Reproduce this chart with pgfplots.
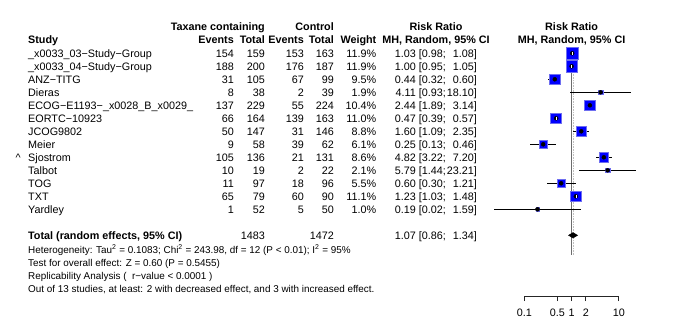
\documentclass[border=0pt]{standalone}
\usepackage{fontspec}
\setmainfont{Liberation Sans}
\usepackage{pgfplots}
\pgfplotsset{compat=1.18}
\usepackage{pgfplotstable}

% row, estimate, CI, weight (%), in = 1 when the CI fits inside the square
\pgfplotstableread{
row est lo hi w in
1 1.03 0.98 1.08 11.9 1
2 1.00 0.95 1.05 11.9 1
3 0.44 0.32 0.60 9.5 0
4 4.11 0.93 18.10 1.9 0
5 2.44 1.89 3.14 10.4 0
6 0.47 0.39 0.57 11.0 1
7 1.60 1.09 2.35 8.8 0
8 0.25 0.13 0.46 6.1 0
9 4.82 3.22 7.20 8.6 0
10 5.79 1.44 23.21 2.1 0
11 0.60 0.30 1.21 5.5 0
12 1.23 1.03 1.48 11.1 1
13 0.19 0.023 1.59 1.0 0
}\studies

\newcommand\mainsz{\fontsize{10.8bp}{13bp}\selectfont}
\newcommand\smallsz{\fontsize{9.9bp}{12bp}\selectfont}

\begin{document}
\begin{tikzpicture}[x=1bp,y=1bp]
\fill[white] (0,0) rectangle (676,329);
\useasboundingbox (0,0) rectangle (676,329);

% ---- header
\begin{scope}[every node/.style={inner sep=0pt,font=\mainsz\bfseries}]
\node[anchor=base east] at (265,298.45) {Taxane containing};
\node[anchor=base east] at (334,298.45) {Control};
\node[anchor=base] at (436,298.45) {Risk Ratio};
\node[anchor=base] at (571.6,298.45) {Risk Ratio};
\node[anchor=base west] at (28,285.15) {Study};
\node[anchor=base east] at (234,285.15) {Events};
\node[anchor=base east] at (265,285.15) {Total};
\node[anchor=base east] at (304,285.15) {Events};
\node[anchor=base east] at (334,285.15) {Total};
\node[anchor=base east] at (376.5,285.15) {Weight};
\node[anchor=base] at (436,285.15) {MH, Random, 95\% CI};
\node[anchor=base] at (571.6,285.15) {MH, Random, 95\% CI};
\end{scope}

% ---- study rows
\begin{scope}[every node/.style={inner sep=0pt,font=\mainsz}]
\foreach \i/\nm/\te/\ta/\ce/\ca/\w/\e/\l/\h in {
 1/\_x0033\_03−Study−Group/154/159/153/163/11.9/1.03/0.98/1.08,
 2/\_x0033\_04−Study−Group/188/200/176/187/11.9/1.00/0.95/1.05,
 3/ANZ−TITG/31/105/67/99/9.5/0.44/0.32/0.60,
 4/Dieras/8/38/2/39/1.9/4.11/0.93/18.10,
 5/ECOG−E1193−\_x0028\_B\_x0029\_/137/229/55/224/10.4/2.44/1.89/3.14,
 6/EORTC−10923/66/164/139/163/11.0/0.47/0.39/0.57,
 7/JCOG9802/50/147/31/146/8.8/1.60/1.09/2.35,
 8/Meier/9/58/39/62/6.1/0.25/0.13/0.46,
 9/Sjostrom/105/136/21/131/8.6/4.82/3.22/7.20,
 10/Talbot/10/19/2/22/2.1/5.79/1.44/23.21,
 11/TOG/11/97/18/96/5.5/0.60/0.30/1.21,
 12/TXT/65/79/60/90/11.1/1.23/1.03/1.48,
 13/Yardley/1/52/5/50/1.0/0.19/0.02/1.59}{
  \pgfmathsetmacro\yy{271.85-13*(\i-1)}
  \node[anchor=base west] at (28,\yy) {\nm};
  \node[anchor=base east] at (234,\yy) {\te};
  \node[anchor=base east] at (265,\yy) {\ta};
  \node[anchor=base east] at (304,\yy) {\ce};
  \node[anchor=base east] at (334,\yy) {\ca};
  \node[anchor=base east] at (376.5,\yy) {\w\%};
  \node[anchor=base east] at (416,\yy) {\e};
  \node[anchor=base east] at (446,\yy) {[\l;};
  \node[anchor=base east] at (477,\yy) {\h]};
}
\node[anchor=base west] at (15.5,167.85) {\textasciicircum};
% total row
\node[anchor=base west,font=\mainsz\bfseries] at (28,89.65) {Total (random effects, 95\% CI)};
\node[anchor=base east] at (265,89.65) {1483};
\node[anchor=base east] at (334,89.65) {1472};
\node[anchor=base east] at (416,89.65) {1.07};
\node[anchor=base east] at (446,89.65) {[0.86;};
\node[anchor=base east] at (477,89.65) {1.34]};
\end{scope}

% ---- heterogeneity and notes
\begin{scope}[every node/.style={inner sep=0pt,font=\smallsz,anchor=base west}]
\node at (28,75.45) {Heterogeneity: Tau\textsuperscript{2} = 0.1083; Chi\textsuperscript{2} = 243.98, df = 12 (P < 0.01); I\textsuperscript{2} = 95\%};
\node at (28,62.45) {Test for overall effect: Z = 0.60 (P = 0.5455)};
\node at (28,49.45) {Replicability Analysis (\ \ r−value < 0.0001 )};
\node at (28,36.45) {Out of 13 studies, at least: 2 with decreased effect, and 3 with increased effect.};
\end{scope}

% ---- forest panel
\begin{axis}[
  at={(477.2bp,288.7bp)},anchor=north west,
  scale only axis,width=188.8bp,height=260bp,
  xmode=log,xmin=0.01,xmax=100,ymin=-20,ymax=0,
  hide axis,clip=false]
\addplot[gray!50,line width=0.6bp,dash pattern=on 0.8bp off 0.8bp] coordinates {(1.07,-0.6) (1.07,-16.5)};
\addplot[gray!85!black,line width=0.8bp] coordinates {(1,-0.6) (1,-16.5)};
% confidence intervals
\addplot[only marks,mark=none,
  error bars/.cd,x dir=both,x explicit,error mark=none,
  error bar style={black!75,line width=0.7bp}]
  table[x=est,y expr=-\thisrow{row},
        x error plus expr=\thisrow{hi}-\thisrow{est},
        x error minus expr=\thisrow{est}-\thisrow{lo}] {\studies};
% weighted squares
\addplot[scatter,only marks,mark=square*,
  scatter/use mapped color={draw={rgb,255:red,110;green,110;blue,240},fill=blue},
  mark options={line width=0.6bp},
  visualization depends on={5.7*sqrt(\thisrow{w}/11.9) \as \msize},
  scatter/@pre marker code/.append style={/tikz/mark size=\msize}]
  table[x=est,y expr=-\thisrow{row}] {\studies};
% CI line across the square
\addplot[only marks,mark=none,
  error bars/.cd,x dir=both,x explicit,error mark=none,
  error bar style={black,line width=0.7bp}]
  table[x=est,y expr=-\thisrow{row},
        x error plus expr=\thisrow{hi}-\thisrow{est},
        x error minus expr=\thisrow{est}-\thisrow{lo},
        restrict expr to domain={\thisrow{in}}{0:0}] {\studies};
\addplot[only marks,mark=none,
  error bars/.cd,x dir=both,x explicit,error mark=none,
  error bar style={white,line width=0.7bp}]
  table[x=est,y expr=-\thisrow{row},
        x error plus expr=\thisrow{hi}-\thisrow{est},
        x error minus expr=\thisrow{est}-\thisrow{lo},
        restrict expr to domain={\thisrow{in}}{1:1}] {\studies};
\addplot[only marks,mark=|,mark size=1.6bp,mark options={black,line width=0.7bp},
  restrict expr to domain={\thisrow{in}}{0:0}]
  table[x=est,y expr=-\thisrow{row}] {\studies};
\addplot[only marks,mark=|,mark size=1.6bp,mark options={white,line width=0.7bp},
  restrict expr to domain={\thisrow{in}}{1:1}]
  table[x=est,y expr=-\thisrow{row}] {\studies};
% pooled estimate
\addplot[fill=black,draw=black] coordinates {(0.86,-15) (1.07,-14.79) (1.34,-15) (1.07,-15.21)} --cycle;
\end{axis}

% ---- log scale
\begin{axis}[
  at={(524.4bp,33bp)},anchor=south west,
  scale only axis,width=94.4bp,height=10bp,
  xmode=log,xmin=0.1,xmax=10,ymin=0,ymax=1,
  axis x line*=bottom,axis y line=none,
  xtick={0.1,0.5,1,2,10},xticklabels={0.1,0.5,1,2,10},minor xtick={},
  tick align=outside,major tick length=5bp,
  axis line style={black!85,line width=0.7bp},
  every tick/.style={black!85,line width=0.7bp},
  xticklabel style={font=\mainsz,inner sep=0pt,yshift=-8bp}]
\addplot[draw=none] coordinates {(1,0.5)};
\end{axis}
\end{tikzpicture}
\end{document}
